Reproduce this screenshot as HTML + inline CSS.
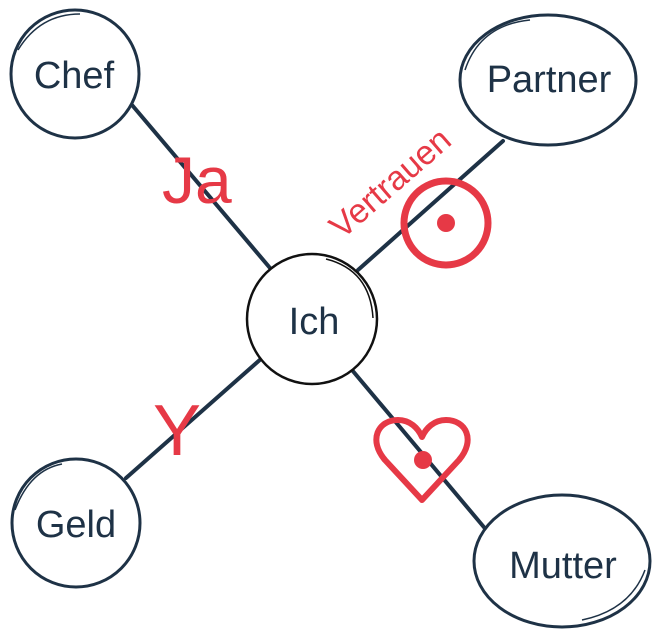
<!DOCTYPE html>
<html><head><meta charset="utf-8"><style>
html,body{margin:0;padding:0;background:#fff;}
svg{display:block;}
text{font-family:"Liberation Sans",sans-serif;}
</style></head><body>
<svg width="660" height="637" viewBox="0 0 660 637" xmlns="http://www.w3.org/2000/svg">
<g stroke="#1e3246" stroke-width="4" stroke-linecap="round">
<line x1="132" y1="105" x2="270" y2="268"/>
<line x1="503" y1="141" x2="358" y2="270"/>
<line x1="126" y1="478" x2="262" y2="358"/>
<line x1="352" y1="370" x2="488" y2="532"/>
</g>
<g fill="#fff" stroke="#1e3246" stroke-width="3">
<circle cx="75" cy="74" r="64"/>
<ellipse cx="548" cy="80" rx="88" ry="65"/>
<circle cx="76" cy="523" r="64"/>
<ellipse cx="562" cy="561" rx="88" ry="66"/>
</g>
<circle cx="312" cy="319" r="65" fill="#fff" stroke="#111" stroke-width="2.5"/>
<g fill="none" stroke="#1e3246" stroke-width="1.5">
<path d="M18 50 Q40 14 80 14"/>
<path d="M465 70 Q480 25 530 20"/>
<path d="M15 510 Q30 470 62 464"/>
<path d="M582 620 Q630 610 645 570"/>
<path d="M326 259 Q370 270 373 318" stroke="#111"/>
</g>
<g fill="#1e3246" font-size="38">
<text x="74" y="88" text-anchor="middle">Chef</text>
<text x="549" y="92" text-anchor="middle">Partner</text>
<text x="314" y="334" text-anchor="middle">Ich</text>
<text x="76" y="537" text-anchor="middle">Geld</text>
<text x="563" y="578" text-anchor="middle">Mutter</text>
</g>
<g fill="#e63946">
<text x="162" y="203" font-size="66">Ja</text>
<text x="153" y="455" font-size="72">Y</text>
<text x="342" y="240" font-size="34" transform="rotate(-41 342 240)">Vertrauen</text>
<circle cx="446" cy="223" r="9"/>
<circle cx="423" cy="460" r="9"/>
</g>
<circle cx="446" cy="223" r="42" fill="none" stroke="#e63946" stroke-width="7"/>
<path d="M422 500 L385 460 C368 440 378 420 398 420 C410 420 418 428 422 437 C426 428 434 420 446 420 C466 420 476 440 459 460 Z" fill="none" stroke="#e63946" stroke-width="6" stroke-linejoin="round"/>
</svg>
</body></html>
